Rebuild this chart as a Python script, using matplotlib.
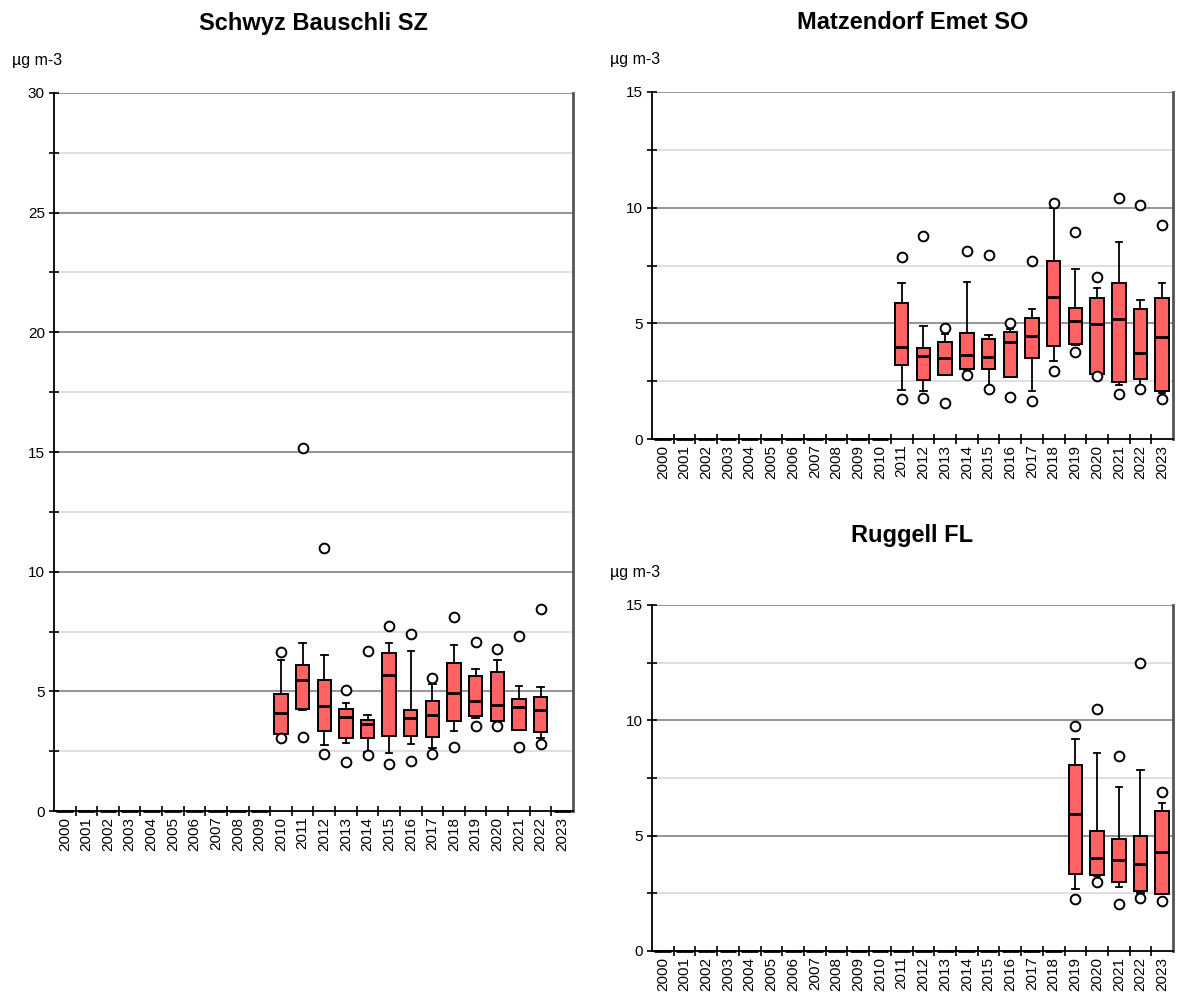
import matplotlib
matplotlib.use('Agg')
import matplotlib.pyplot as plt
from matplotlib.ticker import MultipleLocator, FixedLocator

plt.rcParams['font.family'] = ['Liberation Sans', 'DejaVu Sans']

years = [str(y) for y in range(2000, 2024)]
unit = 'µg m-3'

# stats per year: (whislo, q1, med, q3, whishi, fliers)
schwyz = {
    2010: (3.05, 3.21, 4.11, 4.89, 6.31, [6.64, 3.03]),
    2011: (4.21, 4.25, 5.46, 6.11, 7.00, [15.18, 3.08]),
    2012: (2.75, 3.35, 4.39, 5.46, 6.53, [10.97, 2.40]),
    2013: (2.83, 3.06, 3.92, 4.26, 4.51, [5.07, 2.03]),
    2014: (2.47, 3.06, 3.63, 3.81, 4.03, [6.69, 2.36]),
    2015: (2.42, 3.15, 5.67, 6.60, 7.00, [7.72, 1.97]),
    2016: (2.78, 3.15, 3.89, 4.22, 6.67, [7.40, 2.11]),
    2017: (2.64, 3.10, 4.03, 4.58, 5.32, [5.56, 2.40]),
    2018: (3.35, 3.75, 4.93, 6.17, 6.94, [8.10, 2.67]),
    2019: (3.90, 3.96, 4.61, 5.64, 5.92, [7.06, 3.57]),
    2020: (3.68, 3.76, 4.42, 5.79, 6.31, [6.78, 3.57]),
    2021: (3.38, 3.38, 4.33, 4.69, 5.22, [7.31, 2.67]),
    2022: (3.03, 3.32, 4.21, 4.76, 5.17, [8.44, 2.78]),
}

matzendorf = {
    2011: (2.10, 3.18, 3.96, 5.88, 6.76, [7.85, 1.74]),
    2012: (2.07, 2.56, 3.60, 3.92, 4.90, [8.78, 1.79]),
    2013: (2.77, 2.77, 3.49, 4.21, 4.52, [4.78, 1.54]),
    2014: (2.97, 3.01, 3.65, 4.57, 6.77, [8.13, 2.78]),
    2015: (2.22, 3.01, 3.53, 4.34, 4.51, [7.95, 2.15]),
    2016: (2.67, 2.67, 4.19, 4.64, 4.77, [5.01, 1.83]),
    2017: (2.07, 3.50, 4.45, 5.23, 5.61, [7.68, 1.64]),
    2018: (3.39, 4.03, 6.15, 7.68, 10.00, [10.19, 2.95]),
    2019: (4.07, 4.11, 5.10, 5.68, 7.33, [8.96, 3.76]),
    2020: (2.81, 2.81, 4.97, 6.10, 6.53, [7.02, 2.74]),
    2021: (2.32, 2.48, 5.17, 6.76, 8.52, [10.40, 1.93]),
    2022: (2.22, 2.61, 3.72, 5.63, 6.01, [10.10, 2.18]),
    2023: (2.00, 2.07, 4.41, 6.10, 6.76, [9.25, 1.74]),
}

ruggell = {
    2019: (2.69, 3.34, 5.92, 8.04, 9.19, [9.73, 2.26]),
    2020: (3.27, 3.31, 4.05, 5.22, 8.57, [10.48, 3.01]),
    2021: (2.76, 2.98, 3.94, 4.86, 7.11, [8.44, 2.02]),
    2022: (2.52, 2.62, 3.75, 5.00, 7.86, [12.50, 2.29]),
    2023: (2.45, 2.47, 4.31, 6.08, 6.41, [6.89, 2.17]),
}


def draw_panel(ax, data, title, ymax):
    stats, widths = [], []
    for i, y in enumerate(years):
        yr = int(y)
        if yr in data:
            lo, q1, med, q3, hi, fl = data[yr]
            stats.append(dict(whislo=lo, q1=q1, med=med, q3=q3, whishi=hi, fliers=fl))
            widths.append(0.62)
        else:
            # no data: zero box drawn flat on the axis
            stats.append(dict(whislo=0, q1=0, med=0, q3=0, whishi=0, fliers=[]))
            widths.append(0.78)

    parts = ax.bxp(stats, positions=range(len(years)), widths=widths, patch_artist=True,
                   showfliers=True,
                   boxprops=dict(facecolor='#ff6262', edgecolor='black', linewidth=1.4),
                   medianprops=dict(color='black', linewidth=2),
                   whiskerprops=dict(color='black', linewidth=1.3),
                   capprops=dict(color='black', linewidth=1.3),
                   capwidths=0.3,
                   flierprops=dict(marker='o', markerfacecolor='white', markeredgecolor='black',
                                   markersize=7, markeredgewidth=1.4))
    for key in ['boxes', 'medians', 'whiskers', 'caps']:
        for art in parts[key]:
            art.set_clip_on(False)

    ax.set_xlim(-0.5, len(years) - 0.5)
    ax.set_ylim(0, ymax)

    # grid: darker on multiples of 5, light in between
    for v in range(5, ymax + 1, 5):
        ax.axhline(v, color='#8c8c8c', linewidth=1.3, zorder=0)
    for v in [x + 2.5 for x in range(0, ymax, 5)]:
        ax.axhline(v, color='#dcdcdc', linewidth=1.3, zorder=0)

    ax.yaxis.set_major_locator(MultipleLocator(5))
    ax.yaxis.set_minor_locator(MultipleLocator(2.5))
    ax.tick_params(axis='y', which='both', direction='inout', length=7, width=1.2,
                   labelsize=11, pad=3)

    ax.xaxis.set_major_locator(FixedLocator([i + 0.5 for i in range(len(years) - 1)]))
    ax.xaxis.set_minor_locator(FixedLocator(range(len(years))))
    ax.set_xticklabels([], minor=False)
    ax.set_xticklabels(years, minor=True, rotation=90)
    ax.tick_params(axis='x', which='major', direction='inout', length=7, width=1.2)
    ax.tick_params(axis='x', which='minor', length=0, labelsize=11, pad=4)

    ax.spines['top'].set_visible(False)
    ax.spines['right'].set_color('#555555')
    ax.spines['right'].set_linewidth(2)
    ax.spines['left'].set_linewidth(1.3)
    ax.spines['bottom'].set_linewidth(1.3)

    ax.set_title(title, fontsize=17, fontweight='bold', pad=45)
    ax.annotate(unit, xy=(0, 1), xycoords='axes fraction', xytext=(-42, 32),
                textcoords='offset pixels', ha='left', va='center', fontsize=11.5)


fig = plt.figure(figsize=(11.78, 10.01), dpi=100)
ax1 = fig.add_axes([0.0458, 0.1898, 0.4406, 0.7173])
ax2 = fig.add_axes([0.5535, 0.5614, 0.4423, 0.3467])
ax3 = fig.add_axes([0.5535, 0.0500, 0.4423, 0.3457])

draw_panel(ax1, schwyz, 'Schwyz Bauschli SZ', 30)
draw_panel(ax2, matzendorf, 'Matzendorf Emet SO', 15)
draw_panel(ax3, ruggell, 'Ruggell FL', 15)

fig.savefig('out.png', dpi=100)
